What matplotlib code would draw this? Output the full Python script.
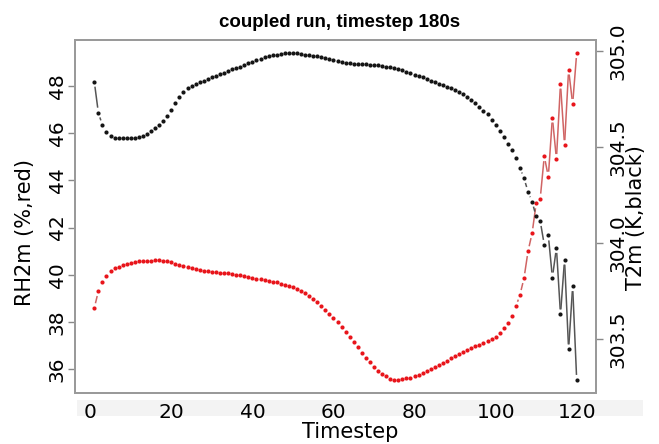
import numpy as np
import matplotlib
matplotlib.use("Agg")
import matplotlib.pyplot as plt
from matplotlib.collections import LineCollection
from matplotlib.transforms import IdentityTransform
from matplotlib.patches import Rectangle

# ---------------- data ----------------
timestep = list(range(1, 121))

rh2m = [38.58, 39.30, 39.69, 39.96, 40.16, 40.27, 40.34, 40.42, 40.46, 40.50,
        40.53, 40.56, 40.57, 40.60, 40.60, 40.61, 40.61, 40.60, 40.57, 40.53,
        40.47, 40.42, 40.37, 40.32, 40.27, 40.23, 40.20, 40.17, 40.15, 40.13,
        40.11, 40.09, 40.06, 40.05, 40.03, 40.00, 39.99, 39.96, 39.92, 39.87,
        39.83, 39.81, 39.78, 39.74, 39.69, 39.67, 39.62, 39.58, 39.53, 39.47,
        39.38, 39.30, 39.21, 39.10, 38.97, 38.85, 38.69, 38.52, 38.35, 38.17,
        37.97, 37.77, 37.56, 37.35, 37.12, 36.91, 36.69, 36.47, 36.28, 36.08,
        35.91, 35.78, 35.68, 35.57, 35.53, 35.54, 35.57, 35.60, 35.63, 35.68,
        35.73, 35.81, 35.90, 36.00, 36.08, 36.18, 36.26, 36.35, 36.44, 36.53,
        36.61, 36.70, 36.78, 36.87, 36.95, 37.03, 37.11, 37.18, 37.27, 37.37,
        37.52, 37.73, 37.94, 38.25, 38.65, 39.14, 39.85, 41.00, 41.76, 43.03,
        43.23, 45.03, 44.16, 46.67, 44.91, 48.11, 45.50, 48.71, 47.25, 49.41]

t2m = [304.839, 304.678, 304.613, 304.578, 304.557, 304.548, 304.545, 304.544, 304.544, 304.545,
       304.547, 304.552, 304.559, 304.568, 304.580, 304.596, 304.614, 304.635, 304.661, 304.692,
       304.726, 304.760, 304.786, 304.806, 304.817, 304.827, 304.836, 304.844, 304.853, 304.862,
       304.870, 304.878, 304.886, 304.895, 304.903, 304.910, 304.917, 304.925, 304.935, 304.942,
       304.950, 304.958, 304.966, 304.971, 304.976, 304.979, 304.983, 304.986, 304.988, 304.988,
       304.986, 304.983, 304.979, 304.978, 304.974, 304.972, 304.969, 304.964, 304.958, 304.952,
       304.945, 304.940, 304.936, 304.935, 304.933, 304.931, 304.931, 304.929, 304.927, 304.926,
       304.924, 304.921, 304.917, 304.915, 304.912, 304.907, 304.900, 304.891, 304.884, 304.875,
       304.869, 304.861, 304.852, 304.844, 304.837, 304.829, 304.820, 304.813, 304.806, 304.796,
       304.786, 304.774, 304.761, 304.744, 304.727, 304.709, 304.688, 304.670, 304.640, 304.612,
       304.585, 304.550, 304.516, 304.481, 304.440, 304.391, 304.337, 304.266, 304.214, 304.138,
       304.114, 303.990, 304.039, 303.820, 303.974, 303.628, 303.913, 303.446, 303.775, 303.287]

x_ticks = [0, 20, 40, 60, 80, 100, 120]
rh_ticks = [36, 38, 40, 42, 44, 46, 48]
t_ticks = [303.5, 304.0, 304.5, 305.0]

title = "coupled run, timestep 180s"
xlabel = "Timestep"
ylabel_left = "RH2m (%,red)"
ylabel_right = "T2m (K,black)"

# ---------------- figure ----------------
W, H = 659, 444
fig = plt.figure(figsize=(W / 100, H / 100), dpi=100)
fig.patch.set_facecolor("white")

L, R, T, B = 75, 596, 40, 393
ax = fig.add_axes([L / W, 1 - B / H, (R - L) / W, (B - T) / H])
ax2 = ax.twinx()


def rlim(v):
    lo, hi = min(v), max(v)
    d = (hi - lo) * 0.04
    return lo - d, hi + d


ax.set_xlim(*rlim(timestep))
ax.set_ylim(*rlim(rh2m))
ax2.set_ylim(*rlim(t2m))

# light gray band behind the x tick labels
band = Rectangle((77 / W, 1 - 416 / H), (643 - 77) / W, 16 / H,
                 transform=fig.transFigure, facecolor="#f3f3f3",
                 edgecolor="none", zorder=-5)
fig.add_artist(band)

frame_col = "#9a9a9a"
for a in (ax, ax2):
    for s in a.spines.values():
        s.set_color(frame_col)
        s.set_linewidth(1.3)

ax.set_xticks(x_ticks)
ax.tick_params(axis="x", length=0, pad=7.5, labelsize=14.5, colors="black")
ax.set_yticks(rh_ticks)
ax.tick_params(axis="y", direction="out", length=5, width=1, color="#888888",
               labelsize=14.5, pad=1)
for t in ax.get_yticklabels():
    t.set_rotation(90)
    t.set_va("center")
ax2.set_yticks(t_ticks)
ax2.set_yticklabels(["%.1f" % v for v in t_ticks])
ax2.tick_params(axis="y", direction="out", length=5, width=1, color="#888888",
                labelsize=14.5, pad=4)
for t in ax2.get_yticklabels():
    t.set_rotation(90)
    t.set_va("center")


def type_b(a, xs, ys, pcol, lcol, gap=5.0, lw=1.1):
    """R-style type='b': points plus line segments with a gap around points."""
    pts = a.transData.transform(np.column_stack([xs, ys]))
    segs = []
    for p0, p1 in zip(pts[:-1], pts[1:]):
        d = np.hypot(*(p1 - p0))
        if d > 2 * gap + 0.5:
            u = (p1 - p0) / d
            segs.append([p0 + u * gap, p1 - u * gap])
    lc = LineCollection(segs, colors=lcol, linewidths=lw,
                        transform=IdentityTransform(), zorder=2)
    a.add_collection(lc, autolim=False)
    a.plot(xs, ys, linestyle="none", marker="o", markersize=3.0,
           markerfacecolor=pcol, markeredgecolor="none", zorder=3)


type_b(ax, timestep, rh2m, "#e8151b", "#d06464")
type_b(ax2, timestep, t2m, "#151515", "#555555")

ax.set_ylim(*rlim(rh2m))
ax2.set_ylim(*rlim(t2m))
ax.set_xlim(*rlim(timestep))

fig.text(340 / W, 1 - 27 / H, title, ha="center", va="baseline",
         fontsize=13.5, fontweight="bold", family="Liberation Sans")
fig.text(350 / W, 1 - 438 / H, xlabel, ha="center", va="baseline", fontsize=15)
fig.text(25 / W, 1 - 232 / H, ylabel_left, ha="center", va="center",
         rotation=90, fontsize=15)
fig.text(636 / W, 1 - 218 / H, ylabel_right, ha="center", va="center",
         rotation=90, fontsize=15)

fig.savefig("out.png", dpi=100)
